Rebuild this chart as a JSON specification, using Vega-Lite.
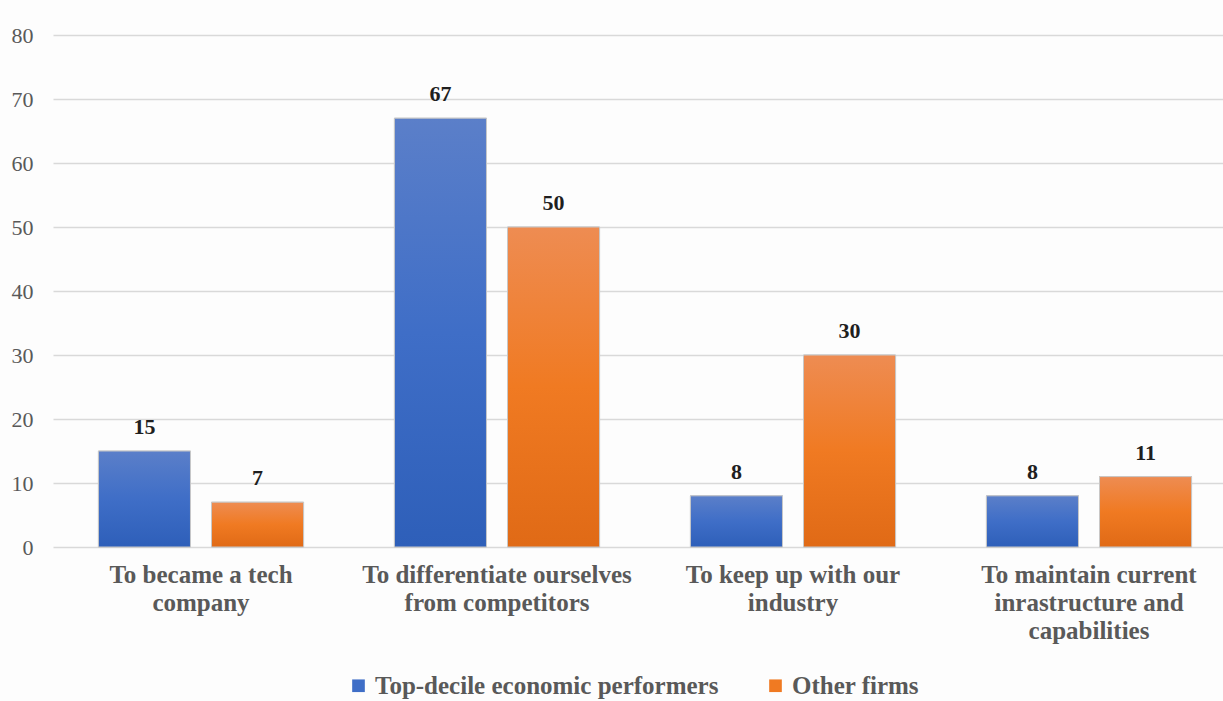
{
  "$schema": "https://vega.github.io/schema/vega-lite/v6.json",
  "width": 1170,
  "height": 512,
  "autosize": {"type": "none"},
  "padding": {"left": 53, "top": 35, "right": 0, "bottom": 154},
  "background": "#fdfdfd",
  "config": {"view": {"stroke": null}},
  "data": {
    "values": [
      {"reason": "To became a tech company", "group": "Top-decile economic performers", "value": 15},
      {"reason": "To became a tech company", "group": "Other firms", "value": 7},
      {"reason": "To differentiate ourselves from competitors", "group": "Top-decile economic performers", "value": 67},
      {"reason": "To differentiate ourselves from competitors", "group": "Other firms", "value": 50},
      {"reason": "To keep up with our industry", "group": "Top-decile economic performers", "value": 8},
      {"reason": "To keep up with our industry", "group": "Other firms", "value": 30},
      {"reason": "To maintain current inrastructure and capabilities", "group": "Top-decile economic performers", "value": 8},
      {"reason": "To maintain current inrastructure and capabilities", "group": "Other firms", "value": 11}
    ]
  },
  "encoding": {
    "x": {
      "field": "reason",
      "type": "nominal",
      "sort": null,
      "scale": {"range": [0, 1184], "paddingInner": 0.307, "paddingOuter": 0.1535},
      "axis": {
        "title": null,
        "labelAngle": 0,
        "domain": false,
        "ticks": false,
        "labelPadding": 15,
        "labelFont": "Liberation Serif",
        "labelFontWeight": "bold",
        "labelFontSize": 25,
        "labelColor": "#595959",
        "labelLineHeight": 28,
        "labelBaseline": "top",
        "labelLimit": 500,
        "labelExpr": "datum.value == 'To became a tech company' ? ['To became a tech', 'company'] : datum.value == 'To differentiate ourselves from competitors' ? ['To differentiate ourselves', 'from competitors'] : datum.value == 'To keep up with our industry' ? ['To keep up with our', 'industry'] : ['To maintain current', 'inrastructure and', 'capabilities']"
      }
    },
    "xOffset": {
      "field": "group",
      "type": "nominal",
      "sort": ["Top-decile economic performers", "Other firms"],
      "scale": {"domain": ["Top-decile economic performers", "Other firms"], "paddingInner": 0.186, "paddingOuter": 0}
    },
    "y": {
      "field": "value",
      "type": "quantitative",
      "scale": {"domain": [0, 80]},
      "axis": {
        "title": null,
        "values": [0, 10, 20, 30, 40, 50, 60, 70, 80],
        "domain": false,
        "ticks": false,
        "labelPadding": 20,
        "labelFont": "Liberation Serif",
        "labelFontSize": 22,
        "labelColor": "#595959",
        "gridColor": "#d9d9d9",
        "gridWidth": 1.5
      }
    }
  },
  "layer": [
    {
      "mark": {"type": "bar", "stroke": "#c8c8c8", "strokeWidth": 1},
      "encoding": {
        "color": {
          "field": "group",
          "type": "nominal",
          "sort": ["Top-decile economic performers", "Other firms"],
          "scale": {
            "domain": ["Top-decile economic performers", "Other firms"],
            "range": ["#3f6ec7", "#f07a22"]
          },
          "legend": {
            "title": null,
            "orient": "none",
            "direction": "horizontal",
            "legendX": 293,
            "legendY": 638,
            "symbolType": "square",
            "symbolSize": 160,
            "symbolStrokeWidth": 0,
            "labelFont": "Liberation Serif",
            "labelFontWeight": "bold",
            "labelFontSize": 25,
            "labelColor": "#595959",
            "labelLimit": 500,
            "columnPadding": 44,
            "labelOffset": 4
          }
        }
      }
    },
    {
      "transform": [{"filter": "datum.group == 'Top-decile economic performers'"}],
      "mark": {"type": "bar", "stroke": "#c8c8c8", "strokeWidth": 1, "fill": {"gradient": "linear", "x1": 0, "y1": 0, "x2": 0, "y2": 1, "stops": [{"offset": 0, "color": "#5b7fc9"}, {"offset": 0.5, "color": "#3f6ec7"}, {"offset": 1, "color": "#2e5fb9"}]}},
      "encoding": {}
    },
    {
      "transform": [{"filter": "datum.group == 'Other firms'"}],
      "mark": {"type": "bar", "stroke": "#c8c8c8", "strokeWidth": 1, "fill": {"gradient": "linear", "x1": 0, "y1": 0, "x2": 0, "y2": 1, "stops": [{"offset": 0, "color": "#ee8c52"}, {"offset": 0.5, "color": "#f07a22"}, {"offset": 1, "color": "#e06a16"}]}},
      "encoding": {}
    },
    {
      "mark": {"type": "text", "dy": -12, "baseline": "bottom", "font": "Liberation Serif", "fontWeight": "bold", "fontSize": 22, "color": "#1f1f1f"},
      "encoding": {"text": {"field": "value", "type": "quantitative"}}
    }
  ]
}
